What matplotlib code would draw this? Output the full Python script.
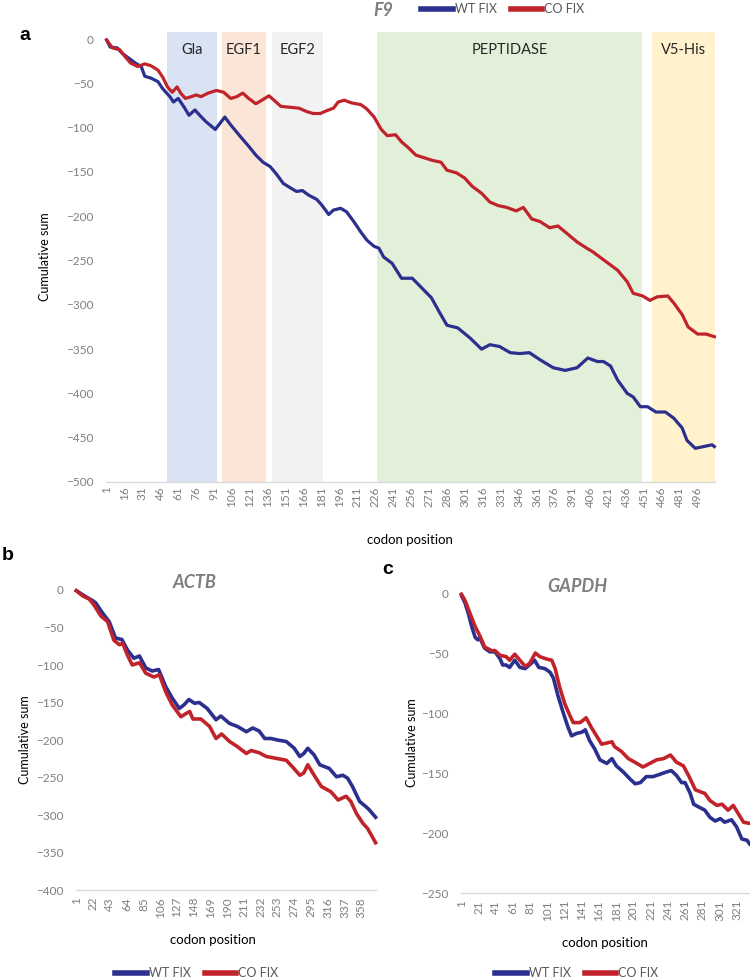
import matplotlib
matplotlib.use("Agg")
import matplotlib.pyplot as plt

plt.rcParams['font.family'] = ['Lato', 'DejaVu Sans']

BLUE = '#2B2F8E'
RED = '#C1232B'
TICK_GRAY = '#7F7F7F'
TITLE_GRAY = '#7F7F7F'

# ---- data ----
f9_n = 510
f9_wt_pos = [1, 4, 10, 14, 20, 25, 30, 33, 38, 44, 48, 54, 57, 61, 66, 70, 75, 79, 84, 92,
             96, 100, 105, 113, 120, 126, 132, 138, 143, 149, 155, 160, 165, 170, 177, 181, 187, 191, 197, 202,
             208, 214, 219, 225, 229, 233, 240, 248, 257, 265, 273, 280, 286, 295, 305, 315, 322, 330, 339, 347,
             355, 364, 375, 385, 395, 404, 412, 417, 423, 429, 437, 442, 448, 454, 461, 469, 476, 483, 487, 494,
             501, 508, 510]
f9_wt_val = [-1, -9, -10, -16, -22, -27, -31, -42, -44, -48, -56, -65, -71, -67, -77, -86, -80, -86, -93, -102,
             -95, -88, -97, -110, -121, -131, -139, -144, -152, -163, -168, -172, -171, -176, -181, -187, -198, -193, -191, -195,
             -206, -218, -227, -234, -236, -246, -253, -270, -270, -281, -292, -309, -323, -326, -337, -350, -345, -347, -354, -355,
             -354, -362, -371, -374, -371, -360, -364, -364, -369, -385, -400, -404, -415, -415, -421, -421, -428, -439, -453, -462,
             -460, -458, -460]
f9_co_pos = [1, 6, 12, 16, 21, 27, 33, 38, 44, 48, 52, 56, 60, 63, 67, 72, 76, 80, 86, 93,
             99, 105, 110, 115, 120, 126, 131, 137, 142, 147, 155, 162, 169, 174, 180, 185, 191, 195, 200, 206,
             214, 219, 225, 231, 236, 243, 248, 254, 260, 267, 274, 281, 286, 294, 301, 307, 315, 322, 329, 336,
             344, 350, 357, 364, 372, 379, 387, 395, 403, 408, 414, 421, 429, 437, 442, 450, 456, 462, 471, 476,
             483, 488, 496, 503, 510]
f9_co_val = [-1, -10, -12, -19, -27, -31, -28, -30, -35, -43, -54, -60, -54, -61, -67, -65, -63, -65, -61, -58,
             -60, -67, -65, -61, -67, -73, -69, -64, -70, -76, -77, -78, -82, -84, -84, -81, -78, -71, -69, -72,
             -74, -79, -88, -102, -109, -108, -116, -123, -131, -134, -137, -139, -148, -151, -157, -166, -174, -184, -188, -190,
             -194, -190, -203, -206, -213, -211, -220, -229, -236, -240, -246, -253, -261, -274, -287, -290, -295, -291, -290, -298,
             -311, -325, -333, -333, -336]

domain_names = ['Gla', 'EGF1', 'EGF2', 'PEPTIDASE', 'V5-His']
domain_start = [52, 98, 140, 228, 458]
domain_end = [93, 134, 182, 449, 510]
domain_colors = ['#DAE3F3', '#FBE5D6', '#F2F2F2', '#E2F0D9', '#FFF2CC']

actb_n = 376
actb_wt_pos = [1, 13, 21, 25, 34, 42, 50, 58, 65, 73, 80, 88, 96, 104, 113, 121, 130, 136, 142, 149,
               155, 165, 176, 182, 193, 203, 214, 222, 230, 237, 245, 253, 264, 274, 281, 286, 291, 299, 306, 318,
               327, 335, 341, 347, 356, 364, 368, 376]
actb_wt_val = [-1, -9, -14, -17, -31, -42, -64, -66, -80, -91, -88, -104, -108, -106, -129, -144, -158, -153, -146, -151,
               -150, -158, -173, -168, -178, -182, -189, -184, -188, -198, -198, -200, -202, -211, -222, -218, -211, -220, -233, -238,
               -249, -247, -251, -262, -282, -289, -293, -303]
actb_co_pos = [1, 9, 17, 23, 32, 40, 48, 55, 59, 65, 71, 80, 88, 98, 105, 113, 121, 132, 138, 143,
               147, 157, 168, 176, 183, 193, 203, 214, 220, 230, 239, 249, 264, 272, 281, 286, 291, 299, 308, 320,
               329, 339, 345, 352, 360, 366, 376]
actb_co_val = [-1, -8, -12, -20, -35, -42, -67, -73, -71, -87, -100, -97, -111, -116, -113, -136, -153, -169, -165, -162,
               -172, -172, -182, -198, -192, -202, -209, -218, -214, -217, -222, -224, -227, -236, -247, -244, -233, -247, -262, -269,
               -280, -275, -282, -298, -311, -318, -337]

gapdh_n = 336
gapdh_wt_pos = [1, 5, 9, 13, 17, 20, 22, 28, 34, 40, 46, 49, 53, 57, 63, 69, 75, 80, 86, 91,
                98, 104, 108, 113, 119, 125, 129, 135, 141, 145, 150, 156, 162, 170, 176, 181, 189, 197, 203, 209,
                216, 224, 232, 240, 245, 251, 257, 261, 267, 271, 276, 284, 290, 296, 302, 307, 315, 321, 327, 333,
                336]
gapdh_wt_val = [-2, -8, -17, -28, -37, -39, -37, -46, -49, -49, -55, -60, -60, -62, -56, -62, -63, -60, -56, -62,
                -63, -66, -71, -85, -99, -112, -119, -117, -116, -114, -123, -130, -139, -142, -138, -144, -149, -155, -159, -158,
                -153, -153, -151, -149, -148, -152, -158, -158, -167, -176, -178, -181, -187, -190, -188, -191, -189, -195, -205, -206,
                -209]
gapdh_co_pos = [1, 5, 11, 17, 22, 28, 36, 40, 46, 53, 57, 63, 69, 75, 80, 87, 92, 100, 106, 110,
                115, 121, 127, 131, 139, 146, 152, 158, 164, 170, 176, 179, 187, 195, 205, 212, 220, 228, 236, 244,
                251, 259, 265, 273, 280, 284, 290, 298, 304, 311, 317, 323, 329, 336]
gapdh_co_val = [-1, -6, -17, -28, -35, -45, -48, -48, -52, -53, -56, -51, -56, -61, -59, -50, -53, -55, -56, -63,
                -78, -92, -102, -108, -108, -104, -112, -119, -126, -125, -124, -128, -132, -138, -142, -145, -142, -139, -138, -135,
                -141, -144, -152, -164, -166, -167, -173, -177, -176, -181, -177, -184, -191, -192]

W, H = 750, 980


def fx(px):
    return px / W


def fy(py):
    return 1 - py / H


def setup(ax, n, xstep, ylo, yhi, ystep, xpad):
    ax.set_xlim(0.5, n + 0.5)
    ax.set_ylim(ylo, yhi)
    for s in ['top', 'right', 'left']:
        ax.spines[s].set_visible(False)
    ax.spines['bottom'].set_color('#D9D9D9')
    ax.spines['bottom'].set_linewidth(1.0)
    ax.set_xticks(list(range(1, n + 1, xstep)))
    ax.set_xticklabels([str(t) for t in range(1, n + 1, xstep)], rotation=90)
    ax.set_yticks(list(range(ylo, 1, ystep)))
    ax.tick_params(axis='both', length=0, colors=TICK_GRAY, labelsize=8.5)
    ax.tick_params(axis='y', pad=9)
    ax.tick_params(axis='x', pad=xpad)
    ax.set_facecolor('none')


def add_legend(handles, cx, cy):
    leg = fig.legend(handles=handles, loc='center', bbox_to_anchor=(fx(cx), fy(cy)), ncol=2, frameon=False,
                     fontsize=9, handlelength=2.5, handletextpad=0.2, columnspacing=1.1, labelcolor='#595959')
    for ln in leg.get_lines():
        ln.set_linewidth(4)
    return leg


fig = plt.figure(figsize=(7.5, 9.8), dpi=100)

# ---- panel a ----
ax_a = fig.add_axes([fx(106), fy(482), fx(715) - fx(106), fy(32) - fy(482)])
for name, s, e, c in zip(domain_names, domain_start, domain_end, domain_colors):
    ax_a.axvspan(s - 0.5, e + 0.5, color=c, lw=0, zorder=0)
    ax_a.text((s + e) / 2, -12, name, ha='center', va='center', fontsize=10.5, color='#262626')
l_wt, = ax_a.plot(f9_wt_pos, f9_wt_val, color=BLUE, lw=2.3, label='WT FIX', zorder=3, clip_on=False)
l_co, = ax_a.plot(f9_co_pos, f9_co_val, color=RED, lw=2.3, label='CO FIX', zorder=3, clip_on=False)
setup(ax_a, f9_n, 15, -500, 8, 50, 3)
fig.text(fx(45), fy(257), 'Cumulative sum', rotation=90, ha='center', va='center', fontsize=9, color='#000000')
fig.text(fx(410), fy(540), 'codon position', ha='center', va='center', fontsize=9.5, color='#000000')
fig.text(fx(383), fy(10), 'F9', ha='center', va='center', fontsize=13, fontweight='bold',
         fontstyle='italic', color=TITLE_GRAY)
add_legend([l_wt, l_co], 503, 9)
fig.text(fx(25), fy(35), 'a', ha='center', va='center', fontsize=14, fontweight='bold', family='Liberation Sans')

# ---- panel b ----
ax_b = fig.add_axes([fx(76), fy(890), fx(376) - fx(76), fy(590) - fy(890)])
lb_wt, = ax_b.plot(actb_wt_pos, actb_wt_val, color=BLUE, lw=2.6, label='WT FIX', clip_on=False)
lb_co, = ax_b.plot(actb_co_pos, actb_co_val, color=RED, lw=2.6, label='CO FIX', clip_on=False)
setup(ax_b, actb_n, 21, -400, 0, 50, 5)
fig.text(fx(25), fy(740), 'Cumulative sum', rotation=90, ha='center', va='center', fontsize=9, color='#000000')
fig.text(fx(213), fy(940), 'codon position', ha='center', va='center', fontsize=9.5, color='#000000')
fig.text(fx(195), fy(582), 'ACTB', ha='center', va='center', fontsize=13, fontweight='bold',
         fontstyle='italic', color=TITLE_GRAY)
add_legend([lb_wt, lb_co], 197, 973)
fig.text(fx(8), fy(555), 'b', ha='center', va='center', fontsize=14, fontweight='bold', family='Liberation Sans')

# ---- panel c ----
ax_c = fig.add_axes([fx(461), fy(893), fx(750) - fx(461), fy(593) - fy(893)])
lc_wt, = ax_c.plot(gapdh_wt_pos, gapdh_wt_val, color=BLUE, lw=2.6, label='WT FIX', clip_on=False)
lc_co, = ax_c.plot(gapdh_co_pos, gapdh_co_val, color=RED, lw=2.6, label='CO FIX', clip_on=False)
setup(ax_c, gapdh_n, 20, -250, 0, 50, 5)
fig.text(fx(412), fy(743), 'Cumulative sum', rotation=90, ha='center', va='center', fontsize=9, color='#000000')
fig.text(fx(605), fy(943), 'codon position', ha='center', va='center', fontsize=9.5, color='#000000')
fig.text(fx(577), fy(587), 'GAPDH', ha='center', va='center', fontsize=13, fontweight='bold',
         fontstyle='italic', color=TITLE_GRAY)
add_legend([lc_wt, lc_co], 577, 973)
fig.text(fx(388), fy(570), 'c', ha='center', va='center', fontsize=14, fontweight='bold', family='Liberation Sans')

fig.savefig('out.png', dpi=100)
